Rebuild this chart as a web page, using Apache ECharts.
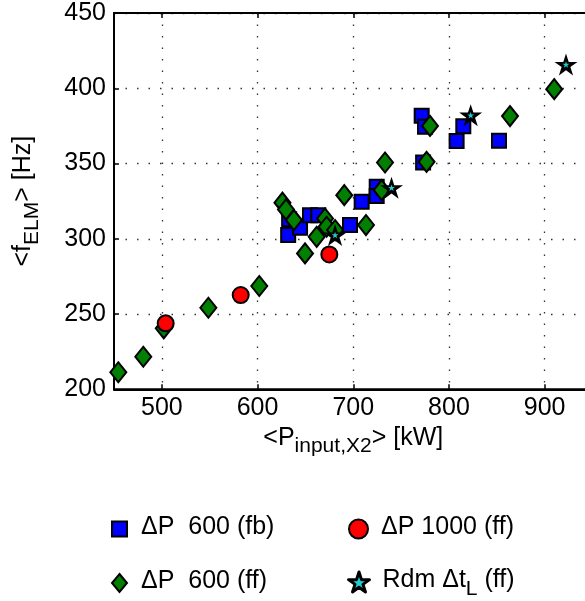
<!DOCTYPE html>
<html><head><meta charset="utf-8">
<script src="https://cdn.jsdelivr.net/npm/echarts@6/dist/echarts.min.js"></script>
<style>html,body{margin:0;padding:0;background:#fff}#c{width:585px;height:601px}</style>
</head><body><div id="c"></div>
<script>
// ---- data ----
const xTickValues = [500, 600, 700, 800, 900];
const fb600 = [[632,302.5],[633,313],[644.4,307.3],[654.8,315.7],[663.5,315.7],[696.6,309.1],[708.8,324.6],[724.5,334.5],[724.5,328.5],[773,350.7],[771.5,381.7],[775,374.4],[808,365],[815,374.8],[852.3,365.1]];
const ff600 = [[454.5,211.3],[480.6,221.6],[502,240.5],[548.6,254.2],[601.8,268.6],[626,324],[629.7,319.5],[638,312.4],[649.6,290.3],[661.8,301.3],[670.5,313.5],[672.2,308],[681,305.8],[690.6,329],[713.3,309.1],[729.7,332.3],[733.2,350.7],[776.6,351.1],[780.2,375],[863.8,381.5],[910,399.4]];
const ff1000 = [[504,243.8],[582.4,262.6],[675,289.6]];
const rdm = [[681,302.5],[740,333.9],[822.7,382.1],[922.3,415.8]];
const names = ['ΔP  600 (fb)', 'ΔP 1000 (ff)', 'ΔP  600 (ff)', 'Rdm ΔtL (ff)'];

const FONT = 'Liberation Sans, Arial, Helvetica, sans-serif';
const STAR = 'path://M50 0 L61.23 34.55 L97.55 34.55 L68.16 55.9 L79.39 90.45 L50 69.1 L20.61 90.45 L31.84 55.9 L2.45 34.55 L38.77 34.55 Z';
const gridDot = {color: '#333', width: 1.3, type: [1.5, 10]};
const richText = {
  a: {fontSize: 25, fontFamily: FONT, color: '#000', lineHeight: 28, verticalAlign: 'top'},
  s: {fontSize: 21, fontFamily: FONT, color: '#000', lineHeight: 21, verticalAlign: 'top', padding: [11, 0, 0, 0]}
};
function legendFmt(n) {
  if (n.indexOf('Rdm') === 0) return '{a|Rdm Δt}{s|L}{a| (ff)}';
  return '{a|' + n + '}';
}
function mkLegend(item, left, top, w, h, pad) {
  return {
    data: [item], left: left, top: top, orient: 'horizontal',
    itemWidth: w, itemHeight: h, formatter: legendFmt, selectedMode: false,
    textStyle: {fontSize: 25, fontFamily: FONT, color: '#000', padding: [0, 0, 0, pad], rich: richText}
  };
}

const chart = echarts.init(document.getElementById('c'), null, {renderer: 'canvas'});
chart.setOption({
  animation: false,
  backgroundColor: '#fff',
  grid: {left: 114, top: 13, width: 478.5, height: 376.3, show: true, borderColor: '#000', borderWidth: 2, outerBoundsMode: 'none', containLabel: false},
  legend: [
    mkLegend(names[0], 106, 510, 15, 15, 9),
    mkLegend(names[1], 343, 510, 19, 19, 8),
    mkLegend(names[2], 106, 564, 15, 18, 9),
    mkLegend({name: names[3], itemStyle: {color: '#22cccc', borderColor: '#000', borderWidth: 3, borderJoin: 'round'}}, 342, 563, 21, 21, 8)
  ],
  xAxis: [{
    type: 'value', min: 450, max: 950,
    name: '{a|<P}{s|input,X2}{a|> [kW]}', nameLocation: 'middle', nameGap: 34,
    nameTextStyle: {rich: richText},
    axisLine: {lineStyle: {color: '#000', width: 2}},
    axisTick: {inside: true, length: 5, customValues: xTickValues, lineStyle: {color: '#000', width: 1.5}},
    axisLabel: {customValues: xTickValues, fontSize: 25, fontFamily: FONT, color: '#000', margin: 6},
    splitLine: {show: true, lineStyle: gridDot}
  }, {
    type: 'value', min: 450, max: 950, position: 'top',
    axisLine: {show: true, lineStyle: {color: '#000', width: 2}},
    axisTick: {show: true, inside: true, length: 5, customValues: xTickValues, lineStyle: {color: '#000', width: 1.5}},
    axisLabel: {show: false},
    splitLine: {show: false}
  }],
  yAxis: {
    type: 'value', min: 200, max: 450, interval: 50,
    name: '{a|<f}{s|ELM}{a|> [Hz]}', nameLocation: 'middle', nameGap: 75, nameRotate: 90,
    nameTextStyle: {rich: richText},
    axisLine: {show: true, lineStyle: {color: '#000', width: 2}},
    axisTick: {show: true, inside: true, length: 5, lineStyle: {color: '#000', width: 1.5}},
    axisLabel: {fontSize: 25, fontFamily: FONT, color: '#000', margin: 8},
    splitLine: {show: true, lineStyle: gridDot}
  },
  series: [
    {name: names[0], type: 'scatter', data: fb600, symbol: 'rect', symbolSize: 14,
     itemStyle: {color: '#0000ff', borderColor: '#000', borderWidth: 2, opacity: 1}},
    {name: names[2], type: 'scatter', data: ff600, symbol: 'diamond', symbolSize: [16, 20],
     itemStyle: {color: '#007f00', borderColor: '#000', borderWidth: 2, opacity: 1}},
    {name: names[1], type: 'scatter', data: ff1000, symbol: 'circle', symbolSize: 16,
     itemStyle: {color: '#ff0000', borderColor: '#000', borderWidth: 2, opacity: 1}},
    {name: names[3], type: 'scatter', data: rdm, symbol: STAR, symbolKeepAspect: true, symbolSize: 23,
     itemStyle: {color: '#000', opacity: 1}},
    {name: 'rdm-center', type: 'scatter', data: rdm, symbol: STAR, symbolKeepAspect: true, symbolSize: 7, silent: true,
     itemStyle: {color: '#22cccc', opacity: 1}}
  ]
});
</script></body></html>
